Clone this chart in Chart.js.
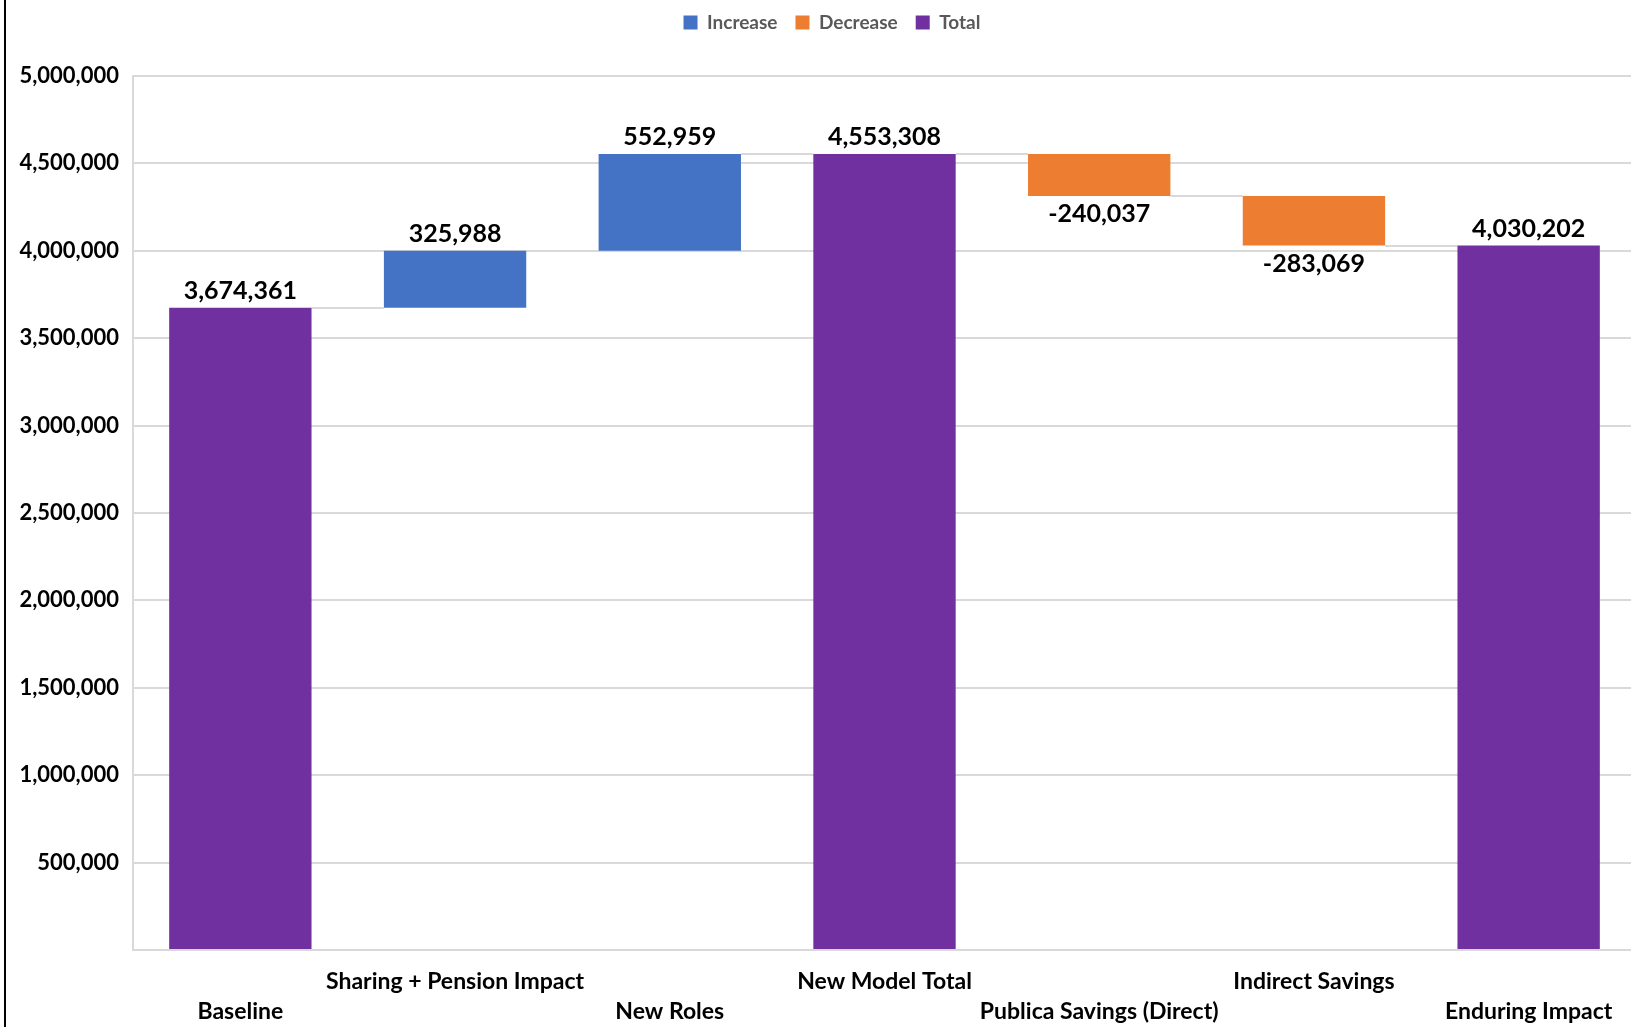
<!DOCTYPE html>
<html lang="en">
<head>
<meta charset="utf-8">
<title>Waterfall</title>
<script src="https://cdn.jsdelivr.net/npm/chart.js@4.4.1/dist/chart.umd.min.js"></script>
<style>
    html, body { margin: 0; padding: 0; background: #fff; overflow: hidden; }
    #frame { position: relative; width: 1631px; height: 1027px; overflow: hidden; }
    #frame::before { content: ''; position: absolute; left: 4px; top: 0; bottom: 0; border-left: 2px solid #000; z-index: 2; }
    #chart { position: absolute; left: 0; top: 0; }
</style>
</head>
<body>
<div id="frame">
    <canvas id="chart" width="1640" height="1027"></canvas>
</div>
<script>
/**
 * Waterfall data (values as labelled on the chart)
 */
const categories = ['Baseline', 'Sharing + Pension Impact', 'New Roles', 'New Model Total', 'Publica Savings (Direct)', 'Indirect Savings', 'Enduring Impact'];
const values = [3674361, 325988, 552959, 4553308, -240037, -283069, 4030202];
const kinds = ['total', 'increase', 'increase', 'total', 'decrease', 'decrease', 'total'];
const yTicks = [0, 500000, 1000000, 1500000, 2000000, 2500000, 3000000, 3500000, 4000000, 4500000, 5000000];

const COLORS = { increase: '#4472C4', decrease: '#ED7D31', total: '#7030A0' };
const FONT = 'Lato, "Open Sans", sans-serif';

// running totals -> floating [start, end] ranges and the level after each step
const levels = [];
const ranges = [];
let running = 0;
values.forEach((v, i) => {
    if (kinds[i] === 'total') {
        ranges.push([0, v]);
        running = v;
    } else {
        ranges.push([running, running + v]);
        running += v;
    }
    levels.push(running);
});

function rangesFor(kind) {
    return ranges.map((r, i) => kinds[i] === kind ? r : null);
}

const fmt = n => n.toLocaleString('en-US');

/**
 * Plugin: grey connectors between the bars
 */
const connectorPlugin = {
    id: 'connectors',
    beforeDatasetsDraw(chart) {
        const { ctx, scales: { y } } = chart;
        const bars = categories.map((c, i) => {
            for (let d = 0; d < chart.data.datasets.length; d++) {
                const el = chart.getDatasetMeta(d).data[i];
                if (chart.data.datasets[d].data[i] !== null && el) return el;
            }
            return null;
        });
        ctx.save();
        ctx.strokeStyle = '#d9d9d9';
        ctx.lineWidth = 2;
        for (let i = 0; i < bars.length - 1; i++) {
            const a = bars[i], b = bars[i + 1];
            const py = Math.round(y.getPixelForValue(levels[i]));
            ctx.beginPath();
            ctx.moveTo(a.x + a.width / 2, py);
            ctx.lineTo(b.x - b.width / 2, py);
            ctx.stroke();
        }
        ctx.restore();
    }
};

/**
 * Plugin: value labels above (or below, for decreases) each bar
 */
const valueLabelPlugin = {
    id: 'valueLabels',
    afterDatasetsDraw(chart) {
        const { ctx } = chart;
        ctx.save();
        ctx.font = `bold 25px ${FONT}`;
        ctx.fillStyle = '#000';
        ctx.textAlign = 'center';
        ctx.textBaseline = 'middle';
        chart.data.datasets.forEach((ds, d) => {
            chart.getDatasetMeta(d).data.forEach((el, i) => {
                if (ds.data[i] === null) return;
                const top = Math.min(el.y, el.base);
                const bottom = Math.max(el.y, el.base);
                const ty = kinds[i] === 'decrease' ? bottom + 18 : top - 17;
                ctx.fillText(fmt(values[i]), el.x, ty);
            });
        });
        ctx.restore();
    }
};

/**
 * Plugin: legend spacing (gap under it, and nudge to sit centred like the original)
 */
const legendGapPlugin = {
    id: 'legendGap',
    beforeInit(chart) {
        const fitValue = chart.legend.fit;
        chart.legend.fit = function fit() {
            fitValue.bind(chart.legend)();
            this.height += 29;
        };
    },
    afterLayout(chart) {
        const lg = chart.legend;
        lg.left += 14; lg.right += 14;
        lg.top -= 5; lg.bottom -= 5;
    }
};

function initChart() {
    const ctx = document.getElementById('chart');
    new Chart(ctx, {
        type: 'bar',
        data: {
            labels: categories,
            datasets: [
                { label: 'Increase', data: rangesFor('increase'), backgroundColor: COLORS.increase },
                { label: 'Decrease', data: rangesFor('decrease'), backgroundColor: COLORS.decrease },
                { label: 'Total', data: rangesFor('total'), backgroundColor: COLORS.total }
            ]
        },
        options: {
            responsive: false,
            animation: false,
            devicePixelRatio: 1,
            grouped: false,
            categoryPercentage: 1,
            barPercentage: 0.663,
            layout: { padding: { top: 0, left: 0, right: 4, bottom: 0 } },
            plugins: {
                legend: {
                    position: 'top',
                    labels: {
                        boxWidth: 14,
                        boxHeight: 14,
                        padding: 18,
                        color: '#595959',
                        font: { family: FONT, size: 19, weight: 'bold' }
                    }
                },
                tooltip: { enabled: false }
            },
            scales: {
                x: {
                    afterFit: axis => { axis.height = 77; },
                    grid: { display: false, drawTicks: false },
                    border: { color: '#d9d9d9', width: 2 },
                    ticks: {
                        autoSkip: false,
                        maxRotation: 0,
                        minRotation: 0,
                        padding: 17,
                        color: '#000',
                        font: { family: FONT, size: 23, weight: 'bold', lineHeight: 30 / 23 },
                        callback: (v, i) => i % 2 === 0 ? ['', categories[i]] : [categories[i], '']
                    }
                },
                y: {
                    min: 0,
                    max: 5000000,
                    afterBuildTicks: axis => { axis.ticks = yTicks.map(v => ({ value: v })); },
                    afterFit: axis => { axis.width = 133; },
                    grid: { color: '#d9d9d9', lineWidth: 2, drawTicks: false },
                    border: { color: '#d9d9d9', width: 2 },
                    ticks: {
                        padding: 14,
                        color: '#000',
                        font: { family: FONT, size: 22, weight: 'bold' },
                        callback: v => v === 0 ? '' : fmt(v)
                    }
                }
            }
        },
        plugins: [legendGapPlugin, connectorPlugin, valueLabelPlugin]
    });
}

document.addEventListener('DOMContentLoaded', initChart);
</script>
</body>
</html>
